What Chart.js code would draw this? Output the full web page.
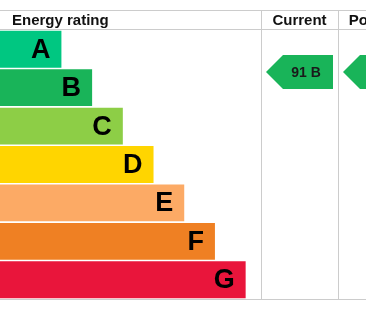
<!DOCTYPE html>
<html>
<head>
<meta charset="utf-8">
<script src="https://cdn.jsdelivr.net/npm/chart.js@4/dist/chart.umd.min.js"></script>
<style>
  html, body { margin: 0; padding: 0; background: #fff; overflow: hidden; }
  #wrap { width: 366px; height: 311px; }
</style>
</head>
<body>
<div id="wrap"><canvas id="epc" width="366" height="311"></canvas></div>
<script>
// bands, top to bottom
const bands = ["A", "B", "C", "D", "E", "F", "G"];
const barLength = [2, 3, 4, 5, 6, 7, 8];
const bandColors = ["#00c781", "#19b459", "#8dce46", "#ffd500", "#fcaa65", "#ef8023", "#e9153b"];
const columns = ["Current", "Potential"];
const scores = [91, 91];
const scoreBands = ["B", "B"];

const FONT = '"Liberation Sans", Arial, sans-serif';
const GRID = "#cccccc";
const COL_W = 77;

const epcPlugin = {
  id: "epc",
  beforeDraw(chart) {
    const ctx = chart.ctx, a = chart.chartArea;
    ctx.save();
    ctx.fillStyle = "#fff";
    ctx.fillRect(0, 0, chart.width, chart.height);
    ctx.strokeStyle = GRID;
    ctx.lineWidth = 1;
    const headTop = a.top - 20;
    ctx.beginPath();
    [headTop, a.top - 1, a.bottom].forEach(y => {
      ctx.moveTo(0, y + 0.5); ctx.lineTo(chart.width + 200, y + 0.5);
    });
    for (let i = 0; i <= columns.length; i++) {
      const x = a.right + i * COL_W + 0.5;
      ctx.moveTo(x, headTop); ctx.lineTo(x, a.bottom);
    }
    ctx.stroke();
    ctx.fillStyle = "#111";
    ctx.font = "bold 15px " + FONT;
    ctx.textBaseline = "alphabetic";
    ctx.textAlign = "left";
    ctx.fillText("Energy rating", 12, a.top - 5);
    ctx.textAlign = "center";
    columns.forEach((c, i) => {
      ctx.fillText(c, a.right + i * COL_W + COL_W / 2 + (i ? 4 : 0), a.top - 5);
    });
    ctx.restore();
  },
  afterDatasetsDraw(chart) {
    const ctx = chart.ctx, a = chart.chartArea;
    const meta = chart.getDatasetMeta(0);
    const y = chart.scales.y;
    ctx.save();
    ctx.fillStyle = "#000";
    ctx.font = "bold 27px " + FONT;
    ctx.textAlign = "right";
    ctx.textBaseline = "middle";
    meta.data.forEach((bar, i) => {
      ctx.fillText(bands[i], bar.x - 11, bar.y + 1);
    });
    // arrows: top edge sits at the score, 100 at the top of band A, 0 at the bottom of G
    columns.forEach((c, i) => {
      const top = Math.round(y.getPixelForValue(-0.5 + (100 - scores[i]) / 100 * bands.length)) + 1;
      const h = 34;
      const left = a.right + i * COL_W + 5;
      const right = left + 67;
      ctx.fillStyle = bandColors[bands.indexOf(scoreBands[i])];
      ctx.beginPath();
      ctx.moveTo(left, top + h / 2);
      ctx.lineTo(left + 17, top);
      ctx.lineTo(right, top);
      ctx.lineTo(right, top + h);
      ctx.lineTo(left + 17, top + h);
      ctx.closePath();
      ctx.fill();
      ctx.fillStyle = "#1a1a1a";
      ctx.font = "bold 14px " + FONT;
      ctx.textAlign = "center";
      ctx.fillText(scores[i] + " " + scoreBands[i], left + 40, top + h / 2 + 1);
    });
    ctx.restore();
  }
};

new Chart(document.getElementById("epc"), {
  type: "bar",
  data: {
    labels: bands,
    datasets: [{
      data: barLength,
      backgroundColor: bandColors,
      borderWidth: 0,
      barPercentage: 0.96,
      categoryPercentage: 1
    }]
  },
  options: {
    indexAxis: "y",
    responsive: false,
    animation: false,
    layout: { padding: { top: 30, bottom: 12, left: 0, right: 105 } },
    scales: {
      x: { display: false, min: 0, max: 8.5 },
      y: { display: false }
    },
    plugins: { legend: { display: false }, tooltip: { enabled: false } }
  },
  plugins: [epcPlugin]
});
</script>
</body>
</html>
